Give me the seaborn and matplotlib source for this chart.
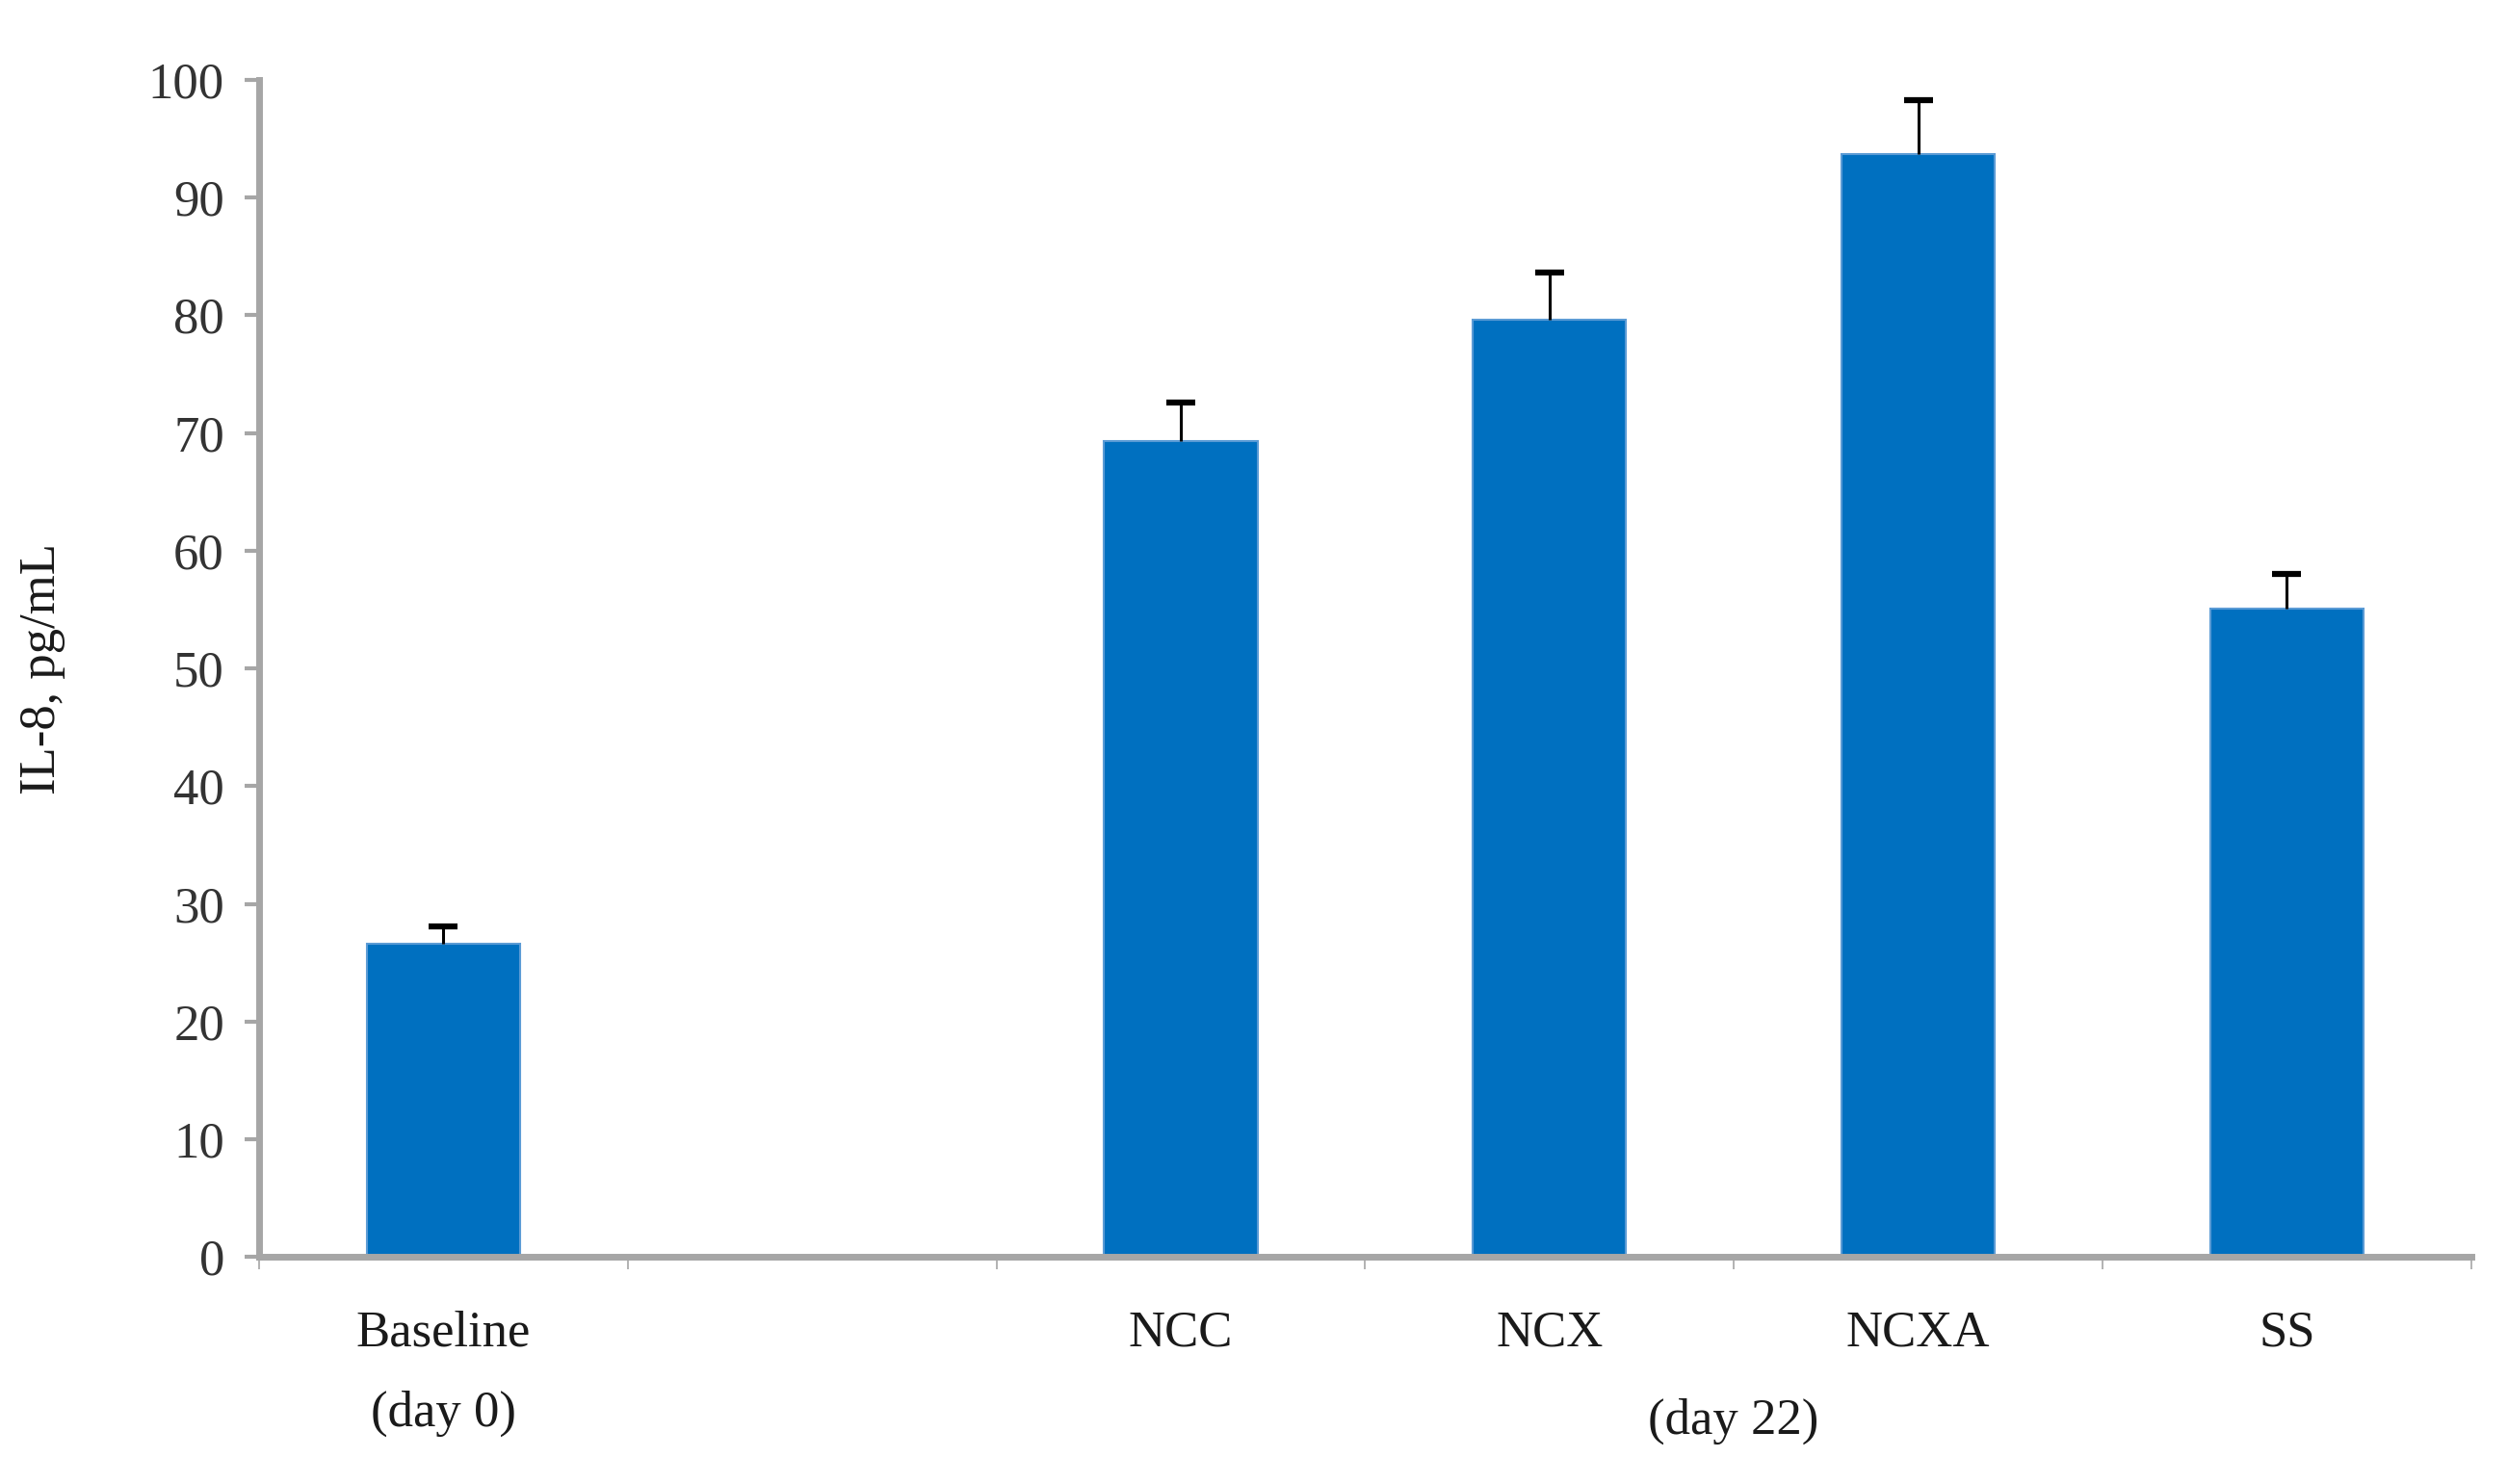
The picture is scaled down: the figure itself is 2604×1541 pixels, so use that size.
import numpy as np
import pandas as pd
import matplotlib
matplotlib.use('Agg')
import matplotlib.pyplot as plt
import matplotlib.transforms as mtransforms
import seaborn as sns

# data
order = ['Baseline', 'gap', 'NCC', 'NCX', 'NCXA', 'SS']
groups = ['Baseline', 'NCC', 'NCX', 'NCXA', 'SS']
il8 = [26.6, 69.3, 79.6, 93.7, 55.1]
il8_err = [1.5, 3.3, 4.0, 4.6, 2.9]
tick_labels = ['Baseline', '', 'NCC', 'NCX', 'NCXA', 'SS']

df = pd.DataFrame({'group': groups, 'il8': il8})

sns.set_style('white')
plt.rcParams['font.family'] = ['Liberation Serif', 'DejaVu Serif']

fig = plt.figure(figsize=(26.04, 15.41), dpi=100)
ax = fig.add_axes([0.1033, 0.1530, 0.8820, 0.7931])

sns.barplot(data=df, x='group', y='il8', order=order, color='#0070C0',
            saturation=1, width=0.416, errorbar=None,
            edgecolor='#5B9BD5', linewidth=1.5, ax=ax)

# upper error bars only
xpos = [order.index(g) for g in groups]
_, caps, _ = ax.errorbar(xpos, il8, yerr=[np.zeros(len(il8)), il8_err], fmt='none',
                         ecolor='black', elinewidth=2.2, capsize=11, capthick=4.5,
                         zorder=3)
caps[0].set_visible(False)  # no cap at the bar top

ax.set_xlim(-0.5, 5.5)
ax.set_ylim(0, 100)
ax.set_yticks(np.arange(0, 101, 10))
ax.set_xticks(range(len(order)))
ax.set_xticklabels(tick_labels)
ax.set_xticks(np.arange(-0.5, 5.6, 1), minor=True)

for side in ['top', 'right']:
    ax.spines[side].set_visible(False)
for side in ['left', 'bottom']:
    ax.spines[side].set_color('#A6A6A6')
    ax.spines[side].set_linewidth(5)

ax.tick_params(axis='y', which='major', direction='out', length=11, width=3,
               color='#A6A6A6', pad=15, labelsize=38, labelcolor='#333333', left=True)
ax.tick_params(axis='x', which='major', length=0, pad=40, labelsize=38,
               labelcolor='#1a1a1a')
ax.tick_params(axis='x', which='minor', direction='out', length=9.5, width=1.2,
               color='#A6A6A6', bottom=True)

ax.set_xlabel('')
ax.set_ylabel('IL-8, pg/mL', fontsize=38, color='#1a1a1a', labelpad=62)

# second line of group labels
trans = mtransforms.blended_transform_factory(ax.transData, ax.transAxes)
ax.text(0, -0.133, '(day 0)', transform=trans, ha='center', va='center',
        fontsize=38, color='#1a1a1a')
ax.text(np.mean(xpos[1:]), -0.140, '(day 22)', transform=trans, ha='center',
        va='center', fontsize=38, color='#1a1a1a')

fig.savefig('out.png', dpi=100, facecolor='white')
